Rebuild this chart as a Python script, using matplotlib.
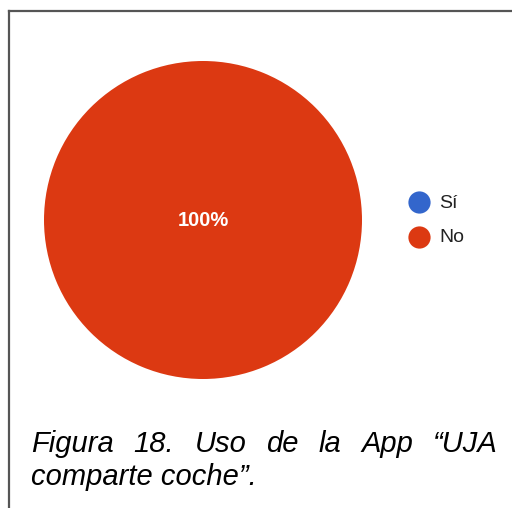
import matplotlib
matplotlib.use('Agg')
import matplotlib.pyplot as plt
from matplotlib.lines import Line2D

categories = ['Sí', 'No']
values = [0, 100]
colors = ['#3366CC', '#DC3912']
caption_line1 = ['Figura', '18.', 'Uso', 'de', 'la', 'App', '“UJA']
caption_line2 = 'comparte coche”.'

W, H = 512, 508
fig = plt.figure(figsize=(W / 100, H / 100), dpi=100)
fig.patch.set_facecolor('white')

def fx(px):
    return px / W

def fy(py):
    return 1 - py / H

# frame lines (top and left)
fig.add_artist(Line2D([fx(9), fx(512)], [fy(11), fy(11)], color='#555555', lw=1.6))
fig.add_artist(Line2D([fx(9), fx(9)], [fy(11), fy(508)], color='#555555', lw=1.6))

# pie
cx, cy, r = 203, 220, 159
ax = fig.add_axes([fx(cx - r), fy(cy + r), 2 * r / W, 2 * r / H])
wedges, texts, autotexts = ax.pie(values, colors=colors, startangle=90, counterclock=False,
                                  autopct=lambda p: '%d%%' % round(p) if p > 1 else '',
                                  pctdistance=0, radius=1,
                                  wedgeprops={'linewidth': 0},
                                  textprops={'color': 'white', 'fontsize': 14.5,
                                             'fontweight': 'bold', 'family': 'Liberation Sans'})
ax.set_xlim(-1, 1)
ax.set_ylim(-1, 1)
ax.set_aspect('equal')
ax.axis('off')

# legend
for i, (lab, col) in enumerate(zip(categories, colors)):
    y = 202 + i * 35
    fig.add_artist(Line2D([fx(419)], [fy(y)], marker='o', markersize=16,
                          color=col, markeredgewidth=0, linestyle='none'))
    fig.text(fx(439), fy(y + 1), lab, fontsize=14, color='#222222',
             family='Liberation Sans', va='center', ha='left')

# caption, first line justified between x=31 and x=498
cap_size = 21
words = [fig.text(0, fy(452), w, fontsize=cap_size, style='italic',
                  family='Liberation Sans', va='baseline', ha='left')
         for w in caption_line1]
renderer = fig.canvas.get_renderer()
widths = [t.get_window_extent(renderer).width for t in words]
left, right = 31, 498
gap = (right - left - sum(widths)) / (len(words) - 1)
x = left
for t, w in zip(words, widths):
    t.set_x(fx(x))
    x += w + gap
fig.text(fx(31), fy(485), caption_line2, fontsize=cap_size, style='italic',
         family='Liberation Sans', va='baseline', ha='left')

fig.savefig('out.png', dpi=100)
